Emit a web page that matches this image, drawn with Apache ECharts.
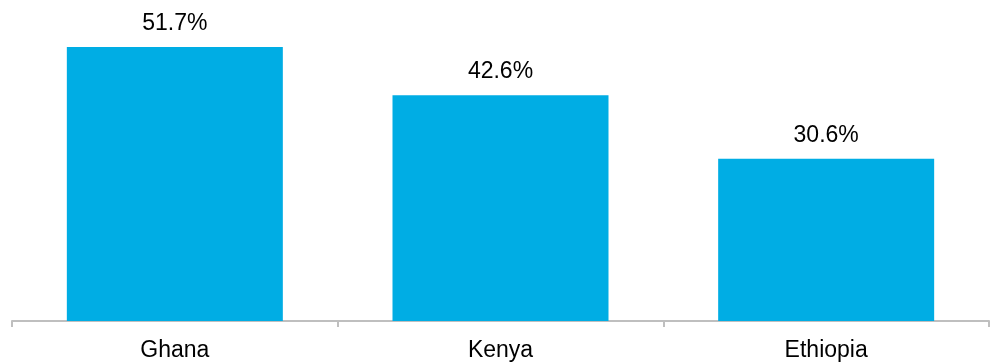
<!DOCTYPE html>
<html>
<head>
<meta charset="utf-8">
<script src="https://cdn.jsdelivr.net/npm/echarts@6/dist/echarts.min.js"></script>
<style>
  html, body { margin: 0; padding: 0; background: #fff; }
  #chart { width: 990px; height: 363px; }
</style>
</head>
<body>
<div id="chart"></div>
<script>
// Share by country (%)
const countries = ['Ghana', 'Kenya', 'Ethiopia'];
const shares = [51.7, 42.6, 30.6];

const chart = echarts.init(document.getElementById('chart'), null, { renderer: 'canvas' });

chart.setOption({
  animation: false,
  grid: { left: 12, right: 1, top: 3, bottom: 42, containLabel: false },
  xAxis: {
    type: 'category',
    data: countries,
    axisLine: { show: true, lineStyle: { color: '#BFBFBF', width: 2 } },
    axisTick: { show: true, length: 6, lineStyle: { color: '#BFBFBF', width: 2 } },
    axisLabel: {
      color: '#000',
      fontFamily: 'Liberation Sans, Arial, sans-serif',
      fontSize: 23,
      margin: 18
    }
  },
  yAxis: {
    type: 'value',
    min: 0,
    max: 60,
    show: false,
    splitLine: { show: false }
  },
  series: [{
    type: 'bar',
    data: shares,
    barWidth: 216,
    itemStyle: { color: '#00ADE4' },
    label: {
      show: true,
      position: 'top',
      distance: 12,
      color: '#000',
      fontFamily: 'Liberation Sans, Arial, sans-serif',
      fontSize: 23,
      formatter: p => p.value.toFixed(1) + '%'
    }
  }]
});
</script>
</body>
</html>
